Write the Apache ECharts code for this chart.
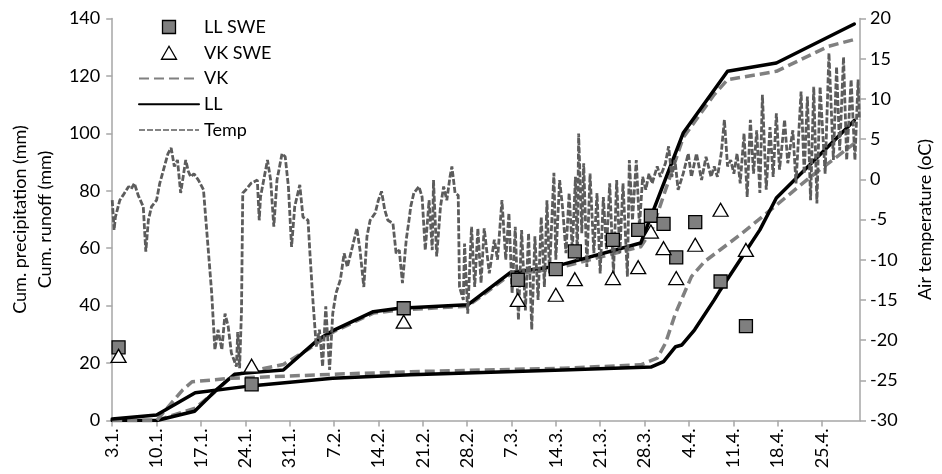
<!DOCTYPE html>
<html>
<head>
<meta charset="utf-8">
<script src="https://cdn.jsdelivr.net/npm/echarts@6/dist/echarts.min.js"></script>
<style>
  html, body { margin: 0; padding: 0; background: #fff; }
  #chart { width: 942px; height: 474px; }
</style>
</head>
<body>
<div id="chart"></div>
<script>
// Day 0 = 3 January; x positions are days since then.
const tickLabels = ['3.1.', '10.1.', '17.1.', '24.1.', '31.1.', '7.2.', '14.2.', '21.2.', '28.2.',
  '7.3.', '14.3.', '21.3.', '28.3.', '4.4.', '11.4.', '18.4.', '25.4.'];

// Snow water equivalent surveys (mm)
const sweDays = [1, 22, 46, 64, 70, 73, 79, 83, 85, 87, 89, 92, 96, 100];
const llSwe = [25.5, 12.6, 39.1, 49.0, 52.7, 58.9, 62.9, 66.4, 71.3, 68.5, 56.8, 69.1, 48.4, 32.9];
const vkSwe = [22.5, 19.1, 34.4, 42.0, 43.8, 49.2, 49.6, 53.4, 65.8, 60.0, 49.6, 61.2, 73.4, 59.4];

// Cumulative precipitation (mm), [day, value]
const precipLL = [[0, 0], [7, 0], [13, 3.2], [16.7, 11.2], [19.3, 16.1], [21, 16.5], [27, 17.6],
  [32.4, 28], [35, 31.5], [41.2, 37.9], [45.3, 39.1], [56.1, 40.3], [62.8, 51.5], [69.8, 53.6],
  [83.4, 61.8], [90.1, 100.1], [97.1, 121.6], [104.8, 124.5], [117.1, 138.1]];
const precipVK = [[0, 0], [7, 0], [13.1, 4.3], [16.2, 10.0], [18.8, 15.3], [20.9, 16.8], [27, 19.5],
  [31.2, 25.2], [35, 31], [41.2, 37.4], [45.3, 38.5], [56.1, 39.8], [62.8, 50.8], [69.8, 52.8],
  [83.4, 60.5], [85.2, 66.5], [90.1, 98.5], [95, 113.5], [97.1, 118.7], [104.8, 121.6],
  [113, 130.3], [117.1, 132.7]];

// Cumulative runoff (mm), [day, value]
const runoffLL = [[0, 0.5], [7, 1.9], [13.1, 9.7], [20.9, 11.8], [34.8, 14.7], [47.1, 15.9],
  [71.1, 17.6], [85, 18.6], [87, 20.5], [88.9, 25.7], [89.9, 26.3], [91.9, 31.6], [95, 42],
  [95.8, 44.9], [99.1, 56.0], [102.2, 66.4], [104.8, 77.5], [117.1, 104.5]];
const runoffVK = [[0, 0], [7, 0], [11.1, 10.6], [12.6, 13.5], [18.8, 14.7], [34.8, 16.1],
  [47.1, 17.0], [71.1, 18.2], [83.4, 19.4], [86, 21.7], [87.3, 26.9], [88.9, 37.4], [91.4, 50.1],
  [93.5, 55.4], [99.1, 64.7], [104.8, 75], [110, 84.5], [117.1, 96.5]];

// Air temperature (°C), [day, value]
const temp = [[0, -2.6], [0.3, -6.3], [0.5, -4.7], [0.8, -3.8], [1.2, -2.6], [1.7, -2.0], [2.1, -1.5],
  [2.6, -0.9], [3.0, -1.2], [3.5, -0.5], [4.1, -2.0],
  [4.9, -3.4], [5.3, -9.0], [5.7, -5.1], [6.2, -3.4], [7.0, -2.6], [7.5, -0.5], [8.1, 1.2], [8.8, 3.2], [9.3, 3.9],
  [9.8, 1.6], [10.3, 2.4], [10.8, -1.7], [11.6, 2.4], [12.0, 1.0], [12.4, 0.3], [12.9, 0.7], [13.6, -0.1],
  [14.4, -1.3], [15.2, -9.2], [15.7, -14.2], [16.2, -21.2], [16.7, -18.7], [17.3, -21.2],
  [17.8, -16.7], [18.3, -18.3], [18.8, -21.6], [19.6, -23.3], [19.8, -19.0], [20.1, -23.5],
  [20.4, -16.3], [20.6, -1.7], [21.1, -1.3], [21.9, -0.5], [22.9, -0.1], [23.2, -5.1], [23.4, -2.2],
  [24.5, 2.4], [25.0, -0.1], [25.5, -5.9], [26.0, -0.1], [26.8, 3.2], [27.3, 2.8], [27.8, -0.9],
  [28.3, -8.4], [28.8, -3.4], [29.6, -0.7], [30.1, -4.7], [30.9, -5.1], [31.2, -9.2], [31.7, -15.4],
  [32.2, -20.8], [32.7, -18.7], [33.2, -23.3], [33.7, -15.8], [34.3, -23.7], [34.8, -16.7],
  [35.3, -14.2], [36.0, -12.5], [36.6, -9.2], [37.1, -10.9], [37.9, -8.4], [38.6, -6.1], [39.1, -8.8],
  [39.7, -13.4], [40.2, -7.1], [40.7, -5.1], [41.5, -4.2], [42.0, -2.6], [42.5, -1.5], [43.0, -3.8],
  [43.5, -5.1], [44.3, -5.5], [44.8, -9.2], [45.3, -8.8], [45.8, -12.9], [46.4, -7.5], [46.9, -4.7],
  [47.1, -3.4], [47.6, -1.7], [48.4, -0.9], [48.9, -2.2], [49.4, -8.8], [50.0, -2.6], [50.5, -8.8],
  [50.7, -0.1], [51.2, -9.6], [51.8, -3.4], [52.3, -0.9], [52.8, -2.6], [53.3, 0.3], [53.6, 1.6],
  [54.1, -1.7], [54.6, -2.0], [54.8, -13.4], [55.4, -15.0], [55.6, -8.0], [56.1, -16.7], [56.7, -5.9],
  [57.2, -13.4], [57.7, -6.1], [58.2, -12.9], [58.7, -6.1], [59.5, -11.7], [60.3, -7.5], [60.8, -10.0],
  [61.5, -2.6], [62.1, -10.0], [62.6, -4.2], [63.1, -14.2], [63.6, -5.9], [64.1, -17.5], [64.6, -6.3],
  [65.2, -16.3], [65.7, -6.7], [66.2, -18.7], [66.7, -7.1], [67.2, -15.0], [67.7, -4.7], [68.2, -13.4],
  [68.6, -2.6], [69.0, -11.7], [69.7, 0.8], [70.0, -10.0], [70.6, -0.1], [71.1, -3.8], [71.6, -9.2],
  [72.1, -1.7], [72.6, -8.8], [73.1, 0.3], [73.4, -10.0], [73.6, 5.7], [74.1, -6.7], [74.4, 2.0],
  [74.9, -10.9], [75.4, 0.7], [76.0, -9.2], [76.5, -1.7], [77.0, -11.7], [77.5, -2.2], [78.0, -8.8],
  [78.5, -0.5], [79.1, -11.7], [79.6, -0.1], [80.1, -9.2], [80.6, -0.5], [81.3, -12.1], [81.6, 2.4],
  [82.1, -5.1], [82.7, 2.4], [83.2, -5.9], [83.7, 0.3], [84.2, -1.3], [84.7, 0.7], [85.2, -0.5],
  [86.0, 1.6], [86.5, 0.3], [87.3, 2.0], [87.8, 4.1], [88.3, 0.3], [88.8, 2.4], [89.3, -1.3],
  [90.1, 0.7], [90.9, 3.2], [91.4, 0.3], [92.2, 3.2], [93.0, -0.1], [93.7, 2.8], [94.5, 0.3],
  [95.0, 1.6], [95.5, 0.3], [96.1, 3.2], [96.6, 7.4], [97.1, 1.6], [97.6, 2.4], [98.1, 0.7],
  [98.6, 3.2], [99.1, -0.5], [99.7, 5.7], [100.2, -2.2], [100.7, 7.4], [101.2, 0.7], [101.7, 6.1],
  [102.2, -1.7], [102.6, 10.5], [103.2, -1.3], [103.8, 6.5], [104.3, 0.3], [104.8, 8.2], [105.3, 1.2],
  [106.1, 7.4], [106.6, 2.0], [107.4, 6.1], [107.9, -0.5], [108.7, 10.9], [109.2, 0.7], [109.7, 10.3],
  [110.2, -2.6], [110.7, 11.5], [111.2, -3.0], [111.7, 11.5], [112.5, 0.7], [113.1, 15.7],
  [113.8, 2.4], [114.3, 14.0], [114.8, 3.6], [115.4, 15.2], [115.9, 2.4], [116.6, 12.4],
  [117.2, 2.4], [117.7, 12.4], [117.9, 7.4]];

const FONT = 'Lato';
const TEXT = '#000';
const AXIS = '#a6a6a6';
const VK_GRAY = '#808080';
const TEMP_GRAY = '#5c5c5c';
const NO_FILL = 'rgba(0,0,0,0)';

const chart = echarts.init(document.getElementById('chart'), null, { renderer: 'canvas' });

const lineStyleLL = { color: '#000', width: 3.5, cap: 'round', join: 'round' };
const lineStyleVK = { color: VK_GRAY, width: 3.5, type: [10, 5], join: 'round' };

// Legend marker shapes as paths so they keep their aspect inside the wide icon box
const squareIcon = 'path://M0,0H10V10H0Z';
const triangleIcon = 'path://M6,0L12,10.4H0Z';

chart.setOption({
  animation: false,
  backgroundColor: '#fff',
  textStyle: { fontFamily: FONT },
  grid: { left: 105, right: 73, top: 18.5, bottom: 53.5 },
  legend: {
    orient: 'vertical',
    left: 133,
    top: 12,
    itemWidth: 60,
    itemHeight: 13,
    itemGap: 5.75,
    symbolKeepAspect: true,
    data: [
      { name: 'LL SWE', icon: squareIcon, itemStyle: { color: '#7f7f7f', borderColor: '#000', borderWidth: 1.3 } },
      { name: 'VK SWE', icon: triangleIcon, itemStyle: { color: '#fff', borderColor: '#000', borderWidth: 1.3 } },
      'VK', 'LL',
      { name: 'Temp', lineStyle: { width: 1.6 } }
    ],
    textStyle: { fontFamily: FONT, fontSize: 18, color: TEXT, lineHeight: 20 }
  },
  xAxis: {
    type: 'value',
    min: 0,
    max: 118,
    interval: 7,
    splitLine: { show: false },
    axisLine: { lineStyle: { color: AXIS, width: 1.5 } },
    axisTick: { show: true, length: 6, lineStyle: { color: AXIS, width: 1.5 } },
    axisLabel: {
      rotate: 90,
      margin: 8,
      fontFamily: FONT,
      fontSize: 18,
      color: TEXT,
      showMaxLabel: false,
      formatter: function (v) {
        const i = Math.round(v / 7);
        return (Math.abs(v - i * 7) < 1e-6 && i < tickLabels.length) ? tickLabels[i] : '';
      }
    }
  },
  yAxis: [
    {
      type: 'value',
      min: 0,
      max: 140,
      interval: 20,
      position: 'left',
      name: 'Cum. precipitation (mm)\nCum. runoff (mm)',
      nameLocation: 'middle',
      nameRotate: 90,
      nameGap: 50,
      nameTextStyle: { fontFamily: FONT, fontSize: 18, color: TEXT, lineHeight: 25 },
      splitLine: { show: false },
      axisLine: { show: true, lineStyle: { color: AXIS, width: 1.5 } },
      axisTick: { show: true, length: 6, lineStyle: { color: AXIS, width: 1.5 } },
      axisLabel: { fontFamily: FONT, fontSize: 18, color: TEXT, margin: 12 }
    },
    {
      type: 'value',
      min: -30,
      max: 20,
      interval: 5,
      position: 'right',
      name: 'Air temperature (oC)',
      nameLocation: 'middle',
      nameRotate: 90,
      nameGap: 56,
      nameTextStyle: { fontFamily: FONT, fontSize: 18, color: TEXT },
      splitLine: { show: false },
      axisLine: { show: true, lineStyle: { color: AXIS, width: 1.5 } },
      axisTick: { show: true, length: 6, lineStyle: { color: AXIS, width: 1.5 } },
      axisLabel: { fontFamily: FONT, fontSize: 18, color: TEXT, margin: 10 }
    }
  ],
  series: [
    {
      name: 'VK', type: 'line', yAxisIndex: 0, data: precipVK,
      symbol: 'none', itemStyle: { color: NO_FILL }, lineStyle: lineStyleVK, z: 2
    },
    {
      name: 'LL', type: 'line', yAxisIndex: 0, data: precipLL,
      symbol: 'none', itemStyle: { color: NO_FILL }, lineStyle: lineStyleLL, z: 2
    },
    {
      name: 'VK', type: 'line', yAxisIndex: 0, data: runoffVK,
      symbol: 'none', itemStyle: { color: NO_FILL }, lineStyle: lineStyleVK, z: 2
    },
    {
      name: 'LL', type: 'line', yAxisIndex: 0, data: runoffLL,
      symbol: 'none', itemStyle: { color: NO_FILL }, lineStyle: lineStyleLL, z: 2
    },
    {
      name: 'Temp', type: 'line', yAxisIndex: 1, data: temp,
      symbol: 'none', itemStyle: { color: NO_FILL },
      lineStyle: { color: TEMP_GRAY, width: 2.8, type: [6, 2] },
      z: 3
    },
    {
      name: 'LL SWE', type: 'scatter', yAxisIndex: 0,
      data: sweDays.map((d, i) => [d, llSwe[i]]),
      symbol: 'rect', symbolSize: 13,
      itemStyle: { color: '#7f7f7f', borderColor: '#000', borderWidth: 1.3, opacity: 1 },
      z: 4
    },
    {
      name: 'VK SWE', type: 'scatter', yAxisIndex: 0,
      data: sweDays.map((d, i) => [d, vkSwe[i]]),
      symbol: 'triangle', symbolSize: [15, 13],
      itemStyle: { color: '#fff', borderColor: '#000', borderWidth: 1.3, opacity: 1 },
      z: 4
    }
  ]
});
</script>
</body>
</html>
